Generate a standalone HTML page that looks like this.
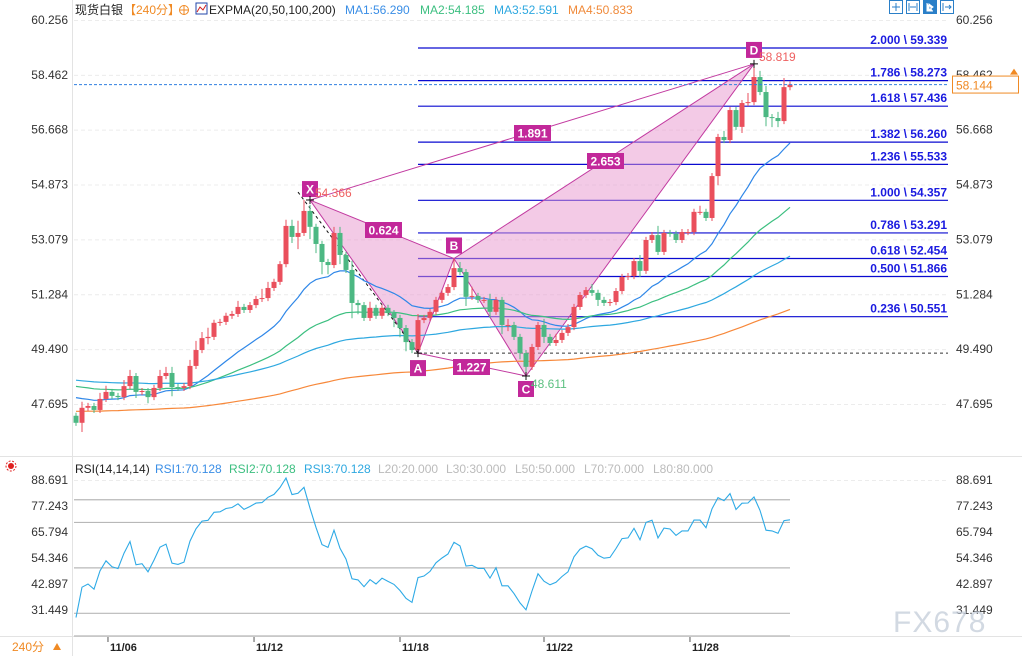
<!DOCTYPE html>
<html><head><meta charset="utf-8">
<style>
html,body{margin:0;padding:0;background:#fff;}
svg{display:block;font-family:"Liberation Sans","Noto Sans CJK SC",sans-serif;}
</style></head>
<body>
<svg id="chart" width="1022" height="656" viewBox="0 0 1022 656" xmlns="http://www.w3.org/2000/svg">
  <rect x="0" y="0" width="1022" height="656" fill="#fff"/>
  <line x1="72.5" y1="0" x2="72.5" y2="656" stroke="#e3e3e3"/>
  <line x1="0" y1="456.5" x2="1022" y2="456.5" stroke="#e3e3e3"/>
  <line x1="0" y1="636.5" x2="1022" y2="636.5" stroke="#e3e3e3"/>
  <g id="grid"></g>
  <g id="fib"></g>
  <g id="pattern"></g>
  <g id="emas"></g>
  <g id="candles"></g>
  <g id="labels"></g>
  <g id="axes"></g>
  <g id="rsi"></g>

  <g font-size="12">
    <text x="75" y="14" fill="#222">现货白银</text>
    <text x="124" y="14" fill="#f08a24">【240分】</text>
    <g><circle cx="184" cy="10" r="4.5" fill="none" stroke="#f08a24"/><line x1="179" y1="10" x2="189" y2="10" stroke="#f08a24"/><line x1="184" y1="5" x2="184" y2="15" stroke="#f08a24"/></g>
    <g><rect x="196" y="3" width="11" height="11" fill="#fff" stroke="#2244aa"/><polyline points="197,12 200,7 203,10 206,5" fill="none" stroke="#d02020"/></g>
    <text x="209" y="14" fill="#222">EXPMA(20,50,100,200)</text>
    <text x="345" y="14" fill="#3a8ee6">MA1:56.290</text>
    <text x="420" y="14" fill="#3cbf80">MA2:54.185</text>
    <text x="494" y="14" fill="#2ea8e0">MA3:52.591</text>
    <text x="568" y="14" fill="#f08a3a">MA4:50.833</text>
  </g>
  <g>
    <g><rect x="889.5" y="0.5" width="13" height="13" fill="#fff" stroke="#2a7fc8"/><path d="M896 3v8M892 7h8" stroke="#2a7fc8"/></g>
    <g><rect x="906.5" y="0.5" width="13" height="13" fill="#fff" stroke="#2a7fc8"/><path d="M909 3v8M917 3v8M910 7h6" stroke="#2a7fc8"/></g>
    <g><rect x="923.5" y="0.5" width="13" height="13" fill="#2a7fc8" stroke="#2a7fc8"/><path d="M927 3v8h6M929 4l4 3-4 3z" stroke="#fff" fill="#fff"/></g>
    <g><rect x="940.5" y="0.5" width="13" height="13" fill="#fff" stroke="#2a7fc8"/><path d="M943 3v8M945 7h6M949 5l2 2-2 2" stroke="#2a7fc8" fill="none"/></g>
  </g>
  <g font-size="12">
    <g><circle cx="11" cy="466" r="3" fill="#e02020"/><circle cx="11" cy="466" r="5" fill="none" stroke="#e02020" stroke-dasharray="2 1.5"/></g>
    <text x="75" y="473" fill="#222">RSI(14,14,14)</text>
    <text x="155" y="473" fill="#3a8ee6">RSI1:70.128</text>
    <text x="229" y="473" fill="#3cbf80">RSI2:70.128</text>
    <text x="304" y="473" fill="#2ea8e0">RSI3:70.128</text>
    <text x="378" y="473" fill="#bbb">L20:20.000</text>
    <text x="446" y="473" fill="#bbb">L30:30.000</text>
    <text x="515" y="473" fill="#bbb">L50:50.000</text>
    <text x="584" y="473" fill="#bbb">L70:70.000</text>
    <text x="653" y="473" fill="#bbb">L80:80.000</text>
  </g>
  <g>
    <text x="12" y="651" font-size="12" fill="#f08a24">240分</text>
    <path d="M53 650l4-7 4 7z" fill="#f08a24"/>
  </g>
  <text x="893" y="632" font-size="30" fill="#c8d0dc" opacity="0.8" letter-spacing="1">FX678</text>
</svg>
<script>
// ---- data ----
const closes = [47.08,47.57,47.63,47.50,47.86,48.09,47.96,47.92,48.28,48.61,
48.09,48.12,47.92,48.22,48.61,48.71,48.25,48.22,48.28,48.94,
49.46,49.85,49.89,50.35,50.38,50.58,50.64,50.87,50.77,50.93,
51.13,51.16,51.49,51.69,52.27,53.52,53.16,53.29,54.01,53.49,
52.93,52.34,52.24,53.29,52.57,52.08,51.00,50.93,50.51,50.84,
50.58,50.84,50.67,50.51,50.18,49.72,49.46,50.44,50.51,50.71,
51.10,51.33,51.52,52.14,52.01,51.20,51.23,51.10,51.10,50.71,
51.10,50.28,50.28,49.89,49.36,48.91,49.56,50.28,49.89,49.69,
49.79,50.02,50.21,50.87,51.26,51.42,51.33,51.10,51.00,51.03,
51.39,51.85,51.88,52.37,52.05,53.06,53.22,52.67,53.29,53.26,
53.06,53.32,53.32,53.98,53.98,53.78,55.15,56.43,56.33,57.31,
56.76,57.54,57.57,58.39,57.90,57.08,57.05,56.95,58.06,58.144];
const firstOpen = 47.31;
const wickHi = [0.1,0.2,0.1,0.1,0.2,0.2,0.1,0.1,0.2,0.2, 0.1,0.1,0.1,0.1,0.2,0.2,0.2,0.1,0.1,0.2,
0.3,0.2,0.3,0.1,0.1,0.1,0.1,0.2,0.1,0.1, 0.1,0.3,0.2,0.1,0.1,0.2,0.2,0.4,0.36,0.2,
0.1,0.1,0.1,0.2,0.2,0.1,0.3,0.1,0.1,0.2, 0.1,0.1,0.1,0.1,0.1,0.1,0.1,0.2,0.1,0.1,
0.1,0.1,0.1,0.31,0.2,0.1,0.3,0.1,0.1,0.2, 0.1,0.1,0.2,0.1,0.1,0.1,0.1,0.1,0.2,0.1,
0.2,0.1,0.1,0.1,0.1,0.1,0.2,0.1,0.1,0.1, 0.1,0.1,0.1,0.1,0.2,0.1,0.1,0.3,0.1,0.1,
0.1,0.1,0.1,0.1,0.2,0.1,0.1,0.1,0.2,0.1, 0.1,0.1,0.3,0.43,0.2,0.2,0.1,0.2,0.3,0.1];
const wickLo = [0.1,0.3,0.1,0.1,0.1,0.1,0.1,0.1,0.1,0.1, 0.2,0.1,0.2,0.1,0.1,0.1,0.3,0.1,0.1,0.1,
0.1,0.1,0.2,0.1,0.1,0.1,0.1,0.1,0.1,0.1, 0.1,0.1,0.1,0.1,0.1,0.1,0.2,0.4,0.1,0.4,
0.3,0.4,0.3,0.1,0.3,0.1,0.5,0.3,0.1,0.1, 0.1,0.1,0.1,0.3,0.3,0.3,0.1,0.1,0.1,0.1,
0.1,0.1,0.1,0.1,0.1,0.3,0.1,0.1,0.1,0.2, 0.1,0.3,0.2,0.1,0.2,0.3,0.1,0.1,0.2,0.1,
0.1,0.1,0.1,0.1,0.1,0.1,0.1,0.2,0.1,0.1, 0.1,0.1,0.1,0.1,0.2,0.1,0.1,0.1,0.1,0.1,
0.1,0.1,0.1,0.1,0.1,0.1,0.1,0.3,0.1,0.1, 0.1,0.2,0.1,0.1,0.1,0.3,0.3,0.2,0.1,0.1];
const emaPeriods = [20,50,100,200];
const emaSeeds = [47.99,48.32,48.5,47.46];
const emaColors = ['#2f87e8','#3cbf80','#2ea8e0','#f7883a'];
const priceTicks = [60.256,58.462,56.668,54.873,53.079,51.284,49.490,47.695];
const rsiTicks = [88.691,77.243,65.794,54.346,42.897,31.449];
const rsiLevels = [80,70,50,30,20];
const dateLabels = ['11/06','11/12','11/18','11/22','11/28'];
const dateIdx = [5.33,29.67,54,78,102.33];
const fibRatios = ['2.000','1.786','1.618','1.382','1.236','1.000','0.786','0.618','0.500','0.236'];
const fibPrices = [59.339,58.273,57.436,56.260,55.533,54.357,53.291,52.454,51.866,50.551];
const patNames = ['X','A','B','C','D'];
const patIdx = [39,57,63,75,113];
const patPrices = [54.366,49.36,52.454,48.611,58.819];
const ratioLabels = ['0.624','1.227','1.891','2.653'];

// ---- scales ----
const NS='http://www.w3.org/2000/svg';
const xB = i => 76 + 6*i;
const yP = p => 20 + (60.256-p)*30.57;
const yR = r => 480 + (88.691-r)*2.2713;
function mk(tag, attrs, parent, txt){const e=document.createElementNS(NS,tag);for(const k in attrs)e.setAttribute(k,attrs[k]);if(txt!==undefined)e.textContent=txt;parent.appendChild(e);return e;}
const G = id => document.getElementById(id);

// grid + axes
priceTicks.forEach(p=>{
  const g=mk('line',{x1:74,x2:948,y1:yP(p)+0.5,y2:yP(p)+0.5,stroke:'#ececec','stroke-dasharray':'4 3'},G('grid'));
  
  
  const t=mk('text',{x:68,y:yP(p)+4,'text-anchor':'end','font-size':12,fill:'#333'},G('axes'),p.toFixed(3));
  
  
  const t2=mk('text',{x:956,y:yP(p)+4,'font-size':12,fill:'#333'},G('axes'),p.toFixed(3));
  
  
});
mk('line',{x1:74,x2:948,y1:yR(88.691)+0.5,y2:yR(88.691)+0.5,stroke:'#ececec','stroke-dasharray':'4 3'},G('grid'));
rsiTicks.forEach(r=>{
  const t=mk('text',{x:68,y:yR(r)+4,'text-anchor':'end','font-size':12,fill:'#333'},G('axes'),r.toFixed(3));
  
  
  const t2=mk('text',{x:956,y:yR(r)+4,'font-size':12,fill:'#333'},G('axes'),r.toFixed(3));
  
  
});
dateLabels.forEach((d,k)=>{
  const x=xB(dateIdx[k]);
  mk('line',{x1:x,x2:x,y1:637,y2:642,stroke:'#555'},G('axes'));
  const t=mk('text',{x:x+2,y:651,'font-size':11,'font-weight':'bold',fill:'#222'},G('axes'),d);
  
  
});

// fib levels
fibPrices.forEach((p,k)=>{
  const y=yP(p);
  const l=mk('line',{x1:418,x2:948,y1:y,y2:y,stroke:'#0a0ad0','stroke-width':1.2},G('fib'));
  
  
  const t=mk('text',{x:947,y:y-4,'text-anchor':'end','font-size':12,'font-weight':'bold',fill:'#1a1ae0'},G('fib'),fibRatios[k]+' \\ '+p.toFixed(3));
  
  
});
// A level dashed
mk('line',{x1:xB(patIdx[1]),x2:948,y1:yP(patPrices[1]),y2:yP(patPrices[1]),stroke:'#333','stroke-dasharray':'3 3'},G('fib'));

// harmonic pattern
const P = patIdx.map((i,k)=>[xB(i),yP(patPrices[k])]);
const pt = a=>a[0]+','+a[1];
const t1=mk('polygon',{points:[P[0],P[1],P[2]].map(pt).join(' '),fill:'rgba(232,150,205,0.5)',stroke:'#c23aa0'},G('pattern'));


const t2=mk('polygon',{points:[P[2],P[3],P[4]].map(pt).join(' '),fill:'rgba(232,150,205,0.5)',stroke:'#c23aa0'},G('pattern'));


mk('line',{x1:P[1][0],y1:P[1][1],x2:P[3][0],y2:P[3][1],stroke:'#c23aa0'},G('pattern'));
mk('line',{x1:P[0][0],y1:P[0][1],x2:P[4][0],y2:P[4][1],stroke:'#c23aa0'},G('pattern'));
mk('line',{x1:P[0][0]-12,y1:P[0][1]-8,x2:P[1][0],y2:P[1][1],stroke:'#111','stroke-dasharray':'3 3'},G('pattern'));

// EMAs
emaPeriods.forEach((n,k)=>{
  const a=2/(n+1); let e=emaSeeds[k]; const pts=[];
  closes.forEach((c,i)=>{e=e+a*(c-e);pts.push(xB(i)+','+yP(e).toFixed(1));});
  const pl=mk('polyline',{points:pts.join(' '),fill:'none',stroke:emaColors[k],'stroke-width':1.2},G('emas'));
  
  
});

// candles
closes.forEach((c,i)=>{
  const o = i===0?firstOpen:closes[i-1];
  const up = c>=o;
  const col = up?'#ea4f5c':'#4cb883';
  const hi=Math.max(o,c)+wickHi[i], lo=Math.min(o,c)-wickLo[i];
  const x=xB(i);
  const g=mk('g',{},G('candles'));
  
  
  mk('line',{x1:x,x2:x,y1:yP(hi),y2:yP(lo),stroke:col},g);
  const top=yP(Math.max(o,c)), h=Math.max(1,yP(Math.min(o,c))-top);
  mk('rect',{x:x-2.5,y:top,width:5,height:h,fill:col},g);
});

// current price line + box
const last=closes[closes.length-1];
mk('line',{x1:74,x2:948,y1:yP(last),y2:yP(last),stroke:'#2f7fe0','stroke-dasharray':'3 2'},G('axes'));
const bx=mk('g',{},G('axes'));


mk('rect',{x:952.5,y:yP(last)-8.5,width:66,height:17,fill:'#fff',stroke:'#f08a24'},bx);
mk('text',{x:956,y:yP(last)+5,'font-size':12,fill:'#f08a24'},bx,last.toFixed(3));
mk('path',{d:`M1010 ${yP(last)-10}l4-6 4 6z`,fill:'#f08a24'},bx);

// pattern labels
function box(x,y,w,txt,name){
  const g=mk('g',{},G('labels'));
  
  
  mk('rect',{x:x,y:y,width:w,height:16,fill:'#c2289a'},g);
  mk('text',{x:x+w/2,y:y+12.5,'text-anchor':'middle','font-size':12,'font-weight':'bold',fill:'#fff'},g,txt);
}
box(P[0][0]-8,P[0][1]-19,16,'X','point-x-label');
box(P[1][0]-8,P[1][1]+7,16,'A','point-a-label');
box(P[2][0]-8,P[2][1]-21,16,'B','point-b-label');
box(P[3][0]-8,P[3][1]+5,16,'C','point-c-label');
box(P[4][0]-8,P[4][1]-22,16,'D','point-d-label');
box(365,222,37,ratioLabels[0],'ratio-xb-label');
box(453,359,37,ratioLabels[1],'ratio-ac-label');
box(514,125,37,ratioLabels[2],'ratio-xd-label');
box(587,153,37,ratioLabels[3],'ratio-bd-label');
mk('text',{x:P[0][0]+5,y:P[0][1]-3,'font-size':12,fill:'#ee6060'},G('labels'),patPrices[0].toFixed(3));
mk('text',{x:P[4][0]+5,y:P[4][1]-3,'font-size':12,fill:'#ee6060'},G('labels'),patPrices[4].toFixed(3));
mk('text',{x:P[3][0]+5,y:P[3][1]+12,'font-size':12,fill:'#5cc080'},G('labels'),patPrices[3].toFixed(3));
[0,4,3,1].forEach(k=>{mk('path',{d:`M${P[k][0]-4} ${P[k][1]}h8M${P[k][0]} ${P[k][1]-4}v8`,stroke:'#111'},G('labels'));});

// RSI
rsiLevels.forEach(l=>{
  const ln=mk('line',{x1:74,x2:790,y1:yR(l),y2:yR(l),stroke:'#b8b8b8','stroke-width':1.2},G('rsi'));
  
  
});
let ag=0.05, al=0.11; const rp=[];
closes.forEach((c,i)=>{
  const prev=i===0?firstOpen:closes[i-1]; const d=c-prev;
  ag=(ag*13+Math.max(d,0))/14; al=(al*13+Math.max(-d,0))/14;
  const r=100-100/(1+ag/al);
  rp.push(xB(i)+','+yR(r).toFixed(1));
});
const rl=mk('polyline',{points:rp.join(' '),fill:'none',stroke:'#2eaae6','stroke-width':1.1},G('rsi'));


</script>
</body></html>
